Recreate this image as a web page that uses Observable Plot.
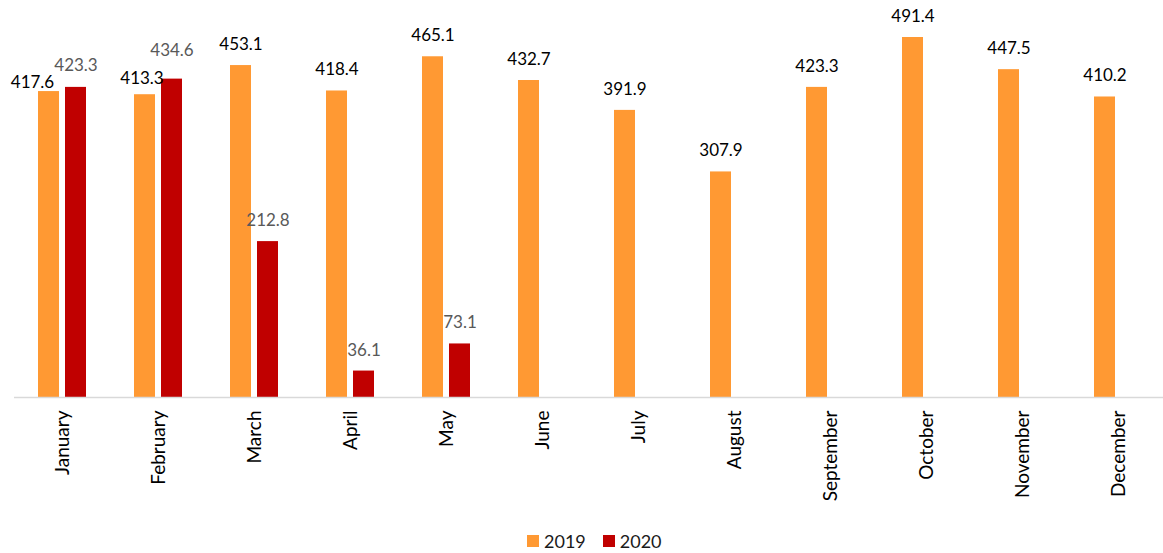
<!DOCTYPE html>
<html>
<head>
<meta charset="utf-8">
<script src="https://cdn.jsdelivr.net/npm/d3@7"></script>
<script src="https://cdn.jsdelivr.net/npm/@observablehq/plot@0.6"></script>
<style>
  html, body { margin: 0; padding: 0; background: #fff; overflow: hidden; }
  #chart svg { display: block; }
  .legend { display: flex; align-items: center; height: 22px; margin-left: 527px;
            font-family: Lato, "Open Sans", sans-serif; font-size: 18px; color: #1a1a1a; }
  .legend .sw { width: 12px; height: 12px; display: inline-block; margin-right: 5px; }
  .legend .item { display: flex; align-items: center; margin-right: 17px; }
</style>
</head>
<body>
<div id="chart"></div>
<script>
const months = ["January","February","March","April","May","June","July","August","September","October","November","December"];
const years = ["2019", "2020"];
const values2019 = [417.6, 413.3, 453.1, 418.4, 465.1, 432.7, 391.9, 307.9, 423.3, 491.4, 447.5, 410.2];
const values2020 = [423.3, 434.6, 212.8, 36.1, 73.1, null, null, null, null, null, null, null];
const colors = ["#FF9933", "#C00000"];

const data = [];
months.forEach((m, i) => {
  if (values2019[i] != null) data.push({month: m, year: "2019", value: values2019[i]});
  if (values2020[i] != null) data.push({month: m, year: "2020", value: values2020[i]});
});

// label nudges (the original moved some overlapping labels): [dx, dy]
const nudges = [
  {key: "January|2019", dx: -16.5, dy: 12},
  {key: "January|2020", dx: 0, dy: -1},
  {key: "February|2019", dx: -3, dy: 5},
  {key: "February|2020", dx: 0, dy: -8}
];
const keyOf = d => d.month + "|" + d.year;
const nudgedKeys = new Set(nudges.map(n => n.key));

const textOpts = (extraDx, extraDy) => ({
  fx: "month", x: "year", y: "value",
  text: d => d.value.toFixed(1),
  fill: d => d.year === "2019" ? "#000000" : "#595959",
  fontSize: 17,
  dx: extraDx,
  dy: -21 + extraDy
});

const chart = Plot.plot({
  width: 1163,
  height: 530,
  marginTop: 30.7,
  marginBottom: 133,
  marginLeft: 12,
  marginRight: 0,
  style: {fontFamily: "Lato, 'Open Sans', sans-serif", background: "#fff", color: "#000"},
  fx: {domain: months, range: [12.3, 1168.3], paddingInner: 0, paddingOuter: 0, axis: null},
  x: {domain: years, paddingInner: 0.21, paddingOuter: 0.87, axis: null},
  y: {domain: [0, 500], axis: null},
  color: {domain: years, range: colors},
  marks: [
    Plot.axisFx({anchor: "bottom", label: null, tickRotate: -90, tickSize: 0, tickPadding: 13, fontSize: 19, fill: "#000"}),
    Plot.barY(data, {fx: "month", x: "year", y: "value", fill: "year"}),
    Plot.ruleY([0], {stroke: "#d9d9d9", strokeWidth: 1.5}),
    Plot.text(data.filter(d => !nudgedKeys.has(keyOf(d))), textOpts(0, 0)),
    ...nudges.map(n => Plot.text(data.filter(d => keyOf(d) === n.key), textOpts(n.dx, n.dy)))
  ]
});

document.getElementById("chart").appendChild(chart);

const legend = document.createElement("div");
legend.className = "legend";
years.forEach((y, i) => {
  const it = document.createElement("span");
  it.className = "item";
  const sw = document.createElement("span");
  sw.className = "sw";
  sw.style.background = colors[i];
  it.appendChild(sw);
  it.appendChild(document.createTextNode(y));
  legend.appendChild(it);
});
document.getElementById("chart").appendChild(legend);
</script>
</body>
</html>
